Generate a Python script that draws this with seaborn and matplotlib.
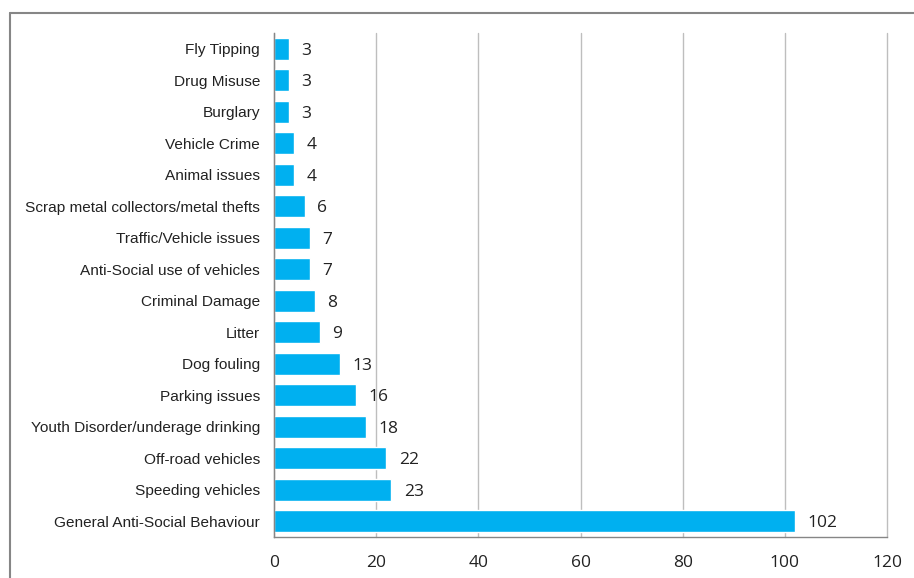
import matplotlib
matplotlib.use("Agg")
import matplotlib.pyplot as plt
import seaborn as sns
import pandas as pd
import numpy as np
from matplotlib.lines import Line2D

categories = [
    "Fly Tipping", "Drug Misuse", "Burglary", "Vehicle Crime", "Animal issues",
    "Scrap metal collectors/metal thefts", "Traffic/Vehicle issues",
    "Anti-Social use of vehicles", "Criminal Damage", "Litter", "Dog fouling",
    "Parking issues", "Youth Disorder/underage drinking", "Off-road vehicles",
    "Speeding vehicles", "General Anti-Social Behaviour",
]
counts = [3, 3, 3, 4, 4, 6, 7, 7, 8, 9, 13, 16, 18, 22, 23, 102]
x_ticks = [0, 20, 40, 60, 80, 100, 120]

df = pd.DataFrame({"category": categories, "count": counts})

sns.set_style("white")
plt.rcParams["font.family"] = ["Liberation Sans", "DejaVu Sans"]

fig = plt.figure(figsize=(9.14, 5.78), dpi=100)
ax = fig.add_axes([274/914, 1 - 537/578, (887 - 274)/914, (537 - 33)/578])

sns.barplot(data=df, y="category", x="count", orient="h", color="#00B0F0",
            saturation=1, width=0.71, ax=ax, zorder=3)

ax.set_xlim(0, 120)
ax.set_ylim(len(categories) - 0.5, -0.5)
ax.set_xticks(x_ticks)
ax.set_xticklabels([str(t) for t in x_ticks], fontsize=12.5, color="#222222",
                   family=["Open Sans", "DejaVu Sans"])
ax.tick_params(axis="x", length=5, width=1, color="#868686", pad=8, direction="out")
ax.tick_params(axis="y", which="major", length=0, pad=10, labelsize=11.1, labelcolor="#222222")
ax.set_yticks(np.arange(-0.5, len(categories), 1), minor=True)
ax.tick_params(axis="y", which="minor", length=5, width=1, color="#868686", direction="out")
ax.set_xlabel("")
ax.set_ylabel("")

ax.grid(axis="x", color="#BEBEBE", linewidth=1, zorder=0)
for gl in ax.get_xgridlines():
    gl.set_clip_on(False)
ax.set_axisbelow(True)
for s in ["top", "right"]:
    ax.spines[s].set_visible(False)
for s in ["left", "bottom"]:
    ax.spines[s].set_color("#868686")
    ax.spines[s].set_linewidth(1)
    ax.spines[s].set_zorder(4)

for i, v in enumerate(counts):
    ax.text(v + 2.4, i + 0.06, str(v), va="center", ha="left", fontsize=12.5,
            color="#222222", family=["Open Sans", "DejaVu Sans"])

# outer frame lines (left and top)
fig.add_artist(Line2D([10/914, 10/914], [0, 1 - 13/578], transform=fig.transFigure,
                      color="#868686", linewidth=1.5))
fig.add_artist(Line2D([10/914, 1], [1 - 13/578, 1 - 13/578], transform=fig.transFigure,
                      color="#868686", linewidth=1.5))

fig.savefig("out.png", dpi=100)
